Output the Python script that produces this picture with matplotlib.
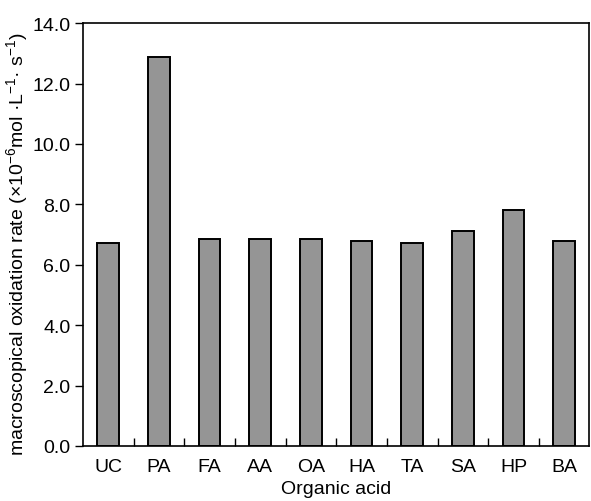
import numpy as np
import matplotlib
matplotlib.use("Agg")
import matplotlib.pyplot as plt

acids = ["UC", "PA", "FA", "AA", "OA", "HA", "TA", "SA", "HP", "BA"]
rates = [6.73, 12.88, 6.85, 6.85, 6.85, 6.78, 6.72, 7.13, 7.81, 6.78]
yticks = [0, 2, 4, 6, 8, 10, 12, 14]

plt.rcParams['font.family'] = ['Liberation Sans', 'DejaVu Sans']
plt.rcParams['mathtext.fontset'] = 'custom'
plt.rcParams['mathtext.rm'] = 'Liberation Sans'
plt.rcParams['mathtext.it'] = 'Liberation Sans'

fig = plt.figure(figsize=(5.91, 5.02), dpi=100)
ax = fig.add_axes([0.1404, 0.1096, 0.857, 0.8424])

x = np.arange(len(acids))
ax.bar(x, rates, width=0.43, color="#959595", edgecolor="black", linewidth=1.4)

ax.set_xlim(-0.5, len(acids) - 0.5)
ax.set_ylim(0, 14)
ax.set_yticks(yticks)
ax.set_yticklabels([f"{v:.1f}" for v in yticks])
ax.set_xticks(x)
ax.set_xticklabels(acids)
ax.set_xticks(np.arange(0.5, len(acids) - 0.5), minor=True)

fs = 14
ax.tick_params(axis='y', direction='out', length=6, width=1, labelsize=fs, pad=3)
ax.tick_params(axis='x', which='major', length=0, labelsize=fs, pad=9)
ax.tick_params(axis='x', which='minor', direction='in', length=6, width=1)
for s in ax.spines.values():
    s.set_linewidth(1.2)

ax.set_ylabel(r"macroscopical oxidation rate (×10$^{-6}$mol ·L$^{-1}$· s$^{-1}$)", fontsize=fs)
ax.yaxis.set_label_coords(-0.104, 0.48)
ax.set_xlabel("Organic acid", fontsize=fs, labelpad=3)

fig.savefig("out.png", dpi=100)
